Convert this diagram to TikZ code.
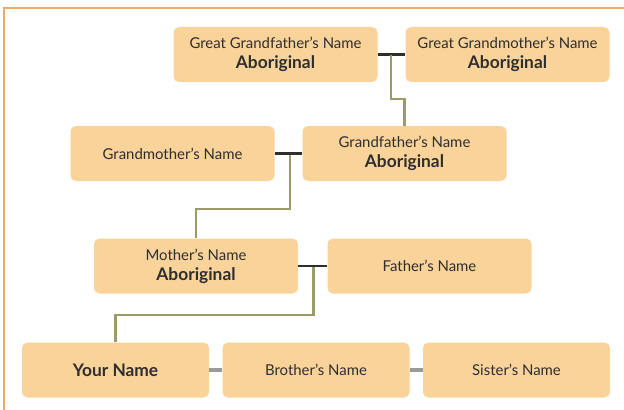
\documentclass[tikz,border=0pt]{standalone}
\usepackage{fontspec}
\setmainfont{Lato}
\definecolor{boxfill}{HTML}{F9D39A}
\definecolor{frameor}{HTML}{E9AA6A}
\definecolor{olivel}{HTML}{9B9B68}
\definecolor{txt}{HTML}{2E2E2E}
\definecolor{sibgray}{HTML}{9A9A9A}
\newcommand\boldname[1]{{\fontsize{13pt}{15pt}\selectfont\bfseries #1}}
\tikzset{
  famnode/.style={fill=boxfill, rounded corners=4pt, minimum width=153pt, minimum height=41.25pt,
    align=center, inner sep=0pt, text=txt, font=\fontsize{11.2pt}{15pt}\selectfont},
  kidnode/.style={famnode, minimum width=140.25pt},
  coupleline/.style={draw=txt, line width=1.9pt},
  childline/.style={draw=olivel, line width=1.7pt},
  sibline/.style={draw=sibgray, line width=2.4pt}
}
\begin{document}
\begin{tikzpicture}[x=0.75pt,y=-0.75pt]
\useasboundingbox (0,0) rectangle (624,410);
\draw[frameor, line width=1.6pt] (4,412) -- (4,8) -- (626,8);

\node[famnode] (ggf) at (275.5,54.5) {Great Grandfather’s Name\\\boldname{Aboriginal}};
\node[famnode] (ggm) at (507.5,54.5) {Great Grandmother’s Name\\\boldname{Aboriginal}};
\node[famnode] (gm) at (172.5,153.5) {Grandmother’s Name};
\node[famnode] (gf) at (404.5,153.5) {Grandfather’s Name\\\boldname{Aboriginal}};
\node[famnode] (mo) at (196,266) {Mother’s Name\\\boldname{Aboriginal}};
\node[famnode] (fa) at (429.5,266) {Father’s Name};
\node[kidnode] (you) at (115.5,370) {\boldname{Your Name}};
\node[kidnode] (bro) at (316,370) {Brother’s Name};
\node[kidnode] (sis) at (516.5,370) {Sister’s Name};

\draw[coupleline] (ggf.east) -- (ggm.west);
\draw[coupleline] (gm.east) -- (gf.west);
\draw[coupleline] (mo.east) -- (fa.west);
\draw[sibline] (you.east) -- (bro.west);
\draw[sibline] (bro.east) -- (sis.west);

\coordinate (c1) at (391,55.5);
\coordinate (c2) at (290,154.5);
\coordinate (c3) at (313.5,267);
\draw[childline] (c1) -- (391,99) -| (gf.north);
\draw[childline] (c2) -- (290,209) -| (mo.north);
\draw[childline] (c3) -- (313.5,315) -| (you.north);
\end{tikzpicture}
\end{document}
